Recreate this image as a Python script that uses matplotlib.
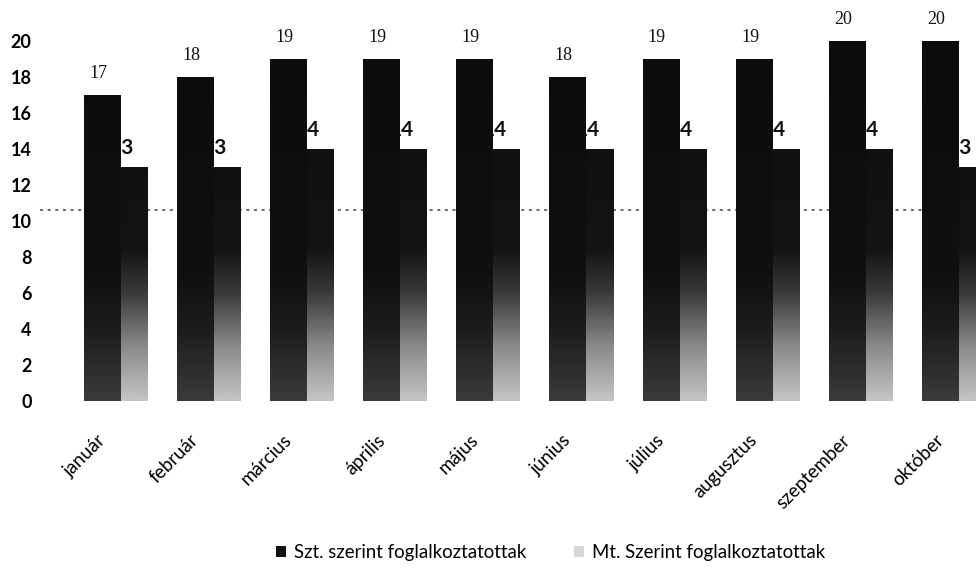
import matplotlib
matplotlib.use("Agg")
import matplotlib.pyplot as plt
import numpy as np
from matplotlib.colors import LinearSegmentedColormap, Normalize
from matplotlib.patches import Patch, Rectangle

MONTHS = ["január", "február", "március", "április", "május", "június",
          "július", "augusztus", "szeptember", "október"]
SZT = [17, 18, 19, 19, 19, 18, 19, 19, 20, 20]
MT = [13, 13, 14, 14, 14, 14, 14, 14, 14, 13]
SERIES_NAMES = ["Szt. szerint foglalkoztatottak", "Mt. Szerint foglalkoztatottak"]

# vertical shading of the bars (by absolute height), like the scanned print
SZT_CMAP = LinearSegmentedColormap.from_list(
    "szt", [(0.0, "#3a3a3a"), (0.2, "#1c1c1c"), (0.35, "#101010"), (1.0, "#0c0c0c")])
MT_CMAP = LinearSegmentedColormap.from_list(
    "mt", [(0.0, "#c4c4c4"), (0.15, "#8a8a8a"), (0.3, "#3a3a3a"), (0.42, "#141414"), (1.0, "#0c0c0c")])
NORM = Normalize(vmin=0, vmax=20)


def shaded_bar(ax, x0, width, height, cmap, zorder):
    rect = Rectangle((x0, 0), width, height, facecolor="none", edgecolor="none", zorder=zorder)
    ax.add_patch(rect)
    grad = np.linspace(height, 0, 200).reshape(-1, 1)
    img = ax.imshow(grad, cmap=cmap, norm=NORM, aspect="auto",
                    extent=(x0, x0 + width, 0, height), origin="upper",
                    interpolation="bilinear", zorder=zorder)
    img.set_clip_path(rect)


def main():
    fig = plt.figure(figsize=(9.76, 5.87), dpi=100)
    ax = fig.add_axes([0.041, 0.317, 0.959, 0.683])

    x = np.arange(len(MONTHS))
    w_szt, w_mt = 0.387, 0.30

    for xi, s, m in zip(x, SZT, MT):
        shaded_bar(ax, xi - w_szt, w_szt, s, SZT_CMAP, zorder=3)
        shaded_bar(ax, xi, w_mt, m, MT_CMAP, zorder=2)
        ax.text(xi - w_szt / 2 - 0.04, s + 0.7, f"{s}", ha="center", va="bottom",
                fontsize=13, family="Liberation Serif", color="#111111", zorder=4)
        # Mt labels sit partly behind the Szt bar, as in the original
        ax.text(xi + 0.02, m + 0.5, f"{m}", ha="center", va="bottom",
                fontsize=15, family="Lato", fontweight="bold", color="#111111", zorder=2.5)

    ax.axhline(10.6, color="#444444", linestyle=(0, (2, 3)), linewidth=1.1, zorder=1)

    ax.set_xlim(-0.859, 9.194)
    ax.set_ylim(0, 22.28)
    ax.set_yticks(range(0, 21, 2))
    ax.set_yticklabels([str(v) for v in range(0, 21, 2)], family="Lato",
                       fontweight="bold", fontsize=13)
    ax.set_xticks(x - 0.12)
    ax.set_xticklabels(MONTHS, rotation=45, ha="right", va="top", family="Lato",
                       fontsize=13.5)
    ax.tick_params(axis="both", length=0)
    ax.tick_params(axis="y", pad=6)
    ax.tick_params(axis="x", pad=22)
    for spine in ax.spines.values():
        spine.set_visible(False)

    handles = [Patch(facecolor="#111111"), Patch(facecolor="#d8d8d8")]
    fig.legend(handles, SERIES_NAMES, loc="center", bbox_to_anchor=(0.564, 0.058),
               ncol=2, frameon=False, prop={"family": "Lato", "size": 13.4},
               handlelength=0.55, handleheight=0.55, handletextpad=0.4, columnspacing=2.6)

    fig.savefig("out.png", dpi=100)


if __name__ == "__main__":
    main()
